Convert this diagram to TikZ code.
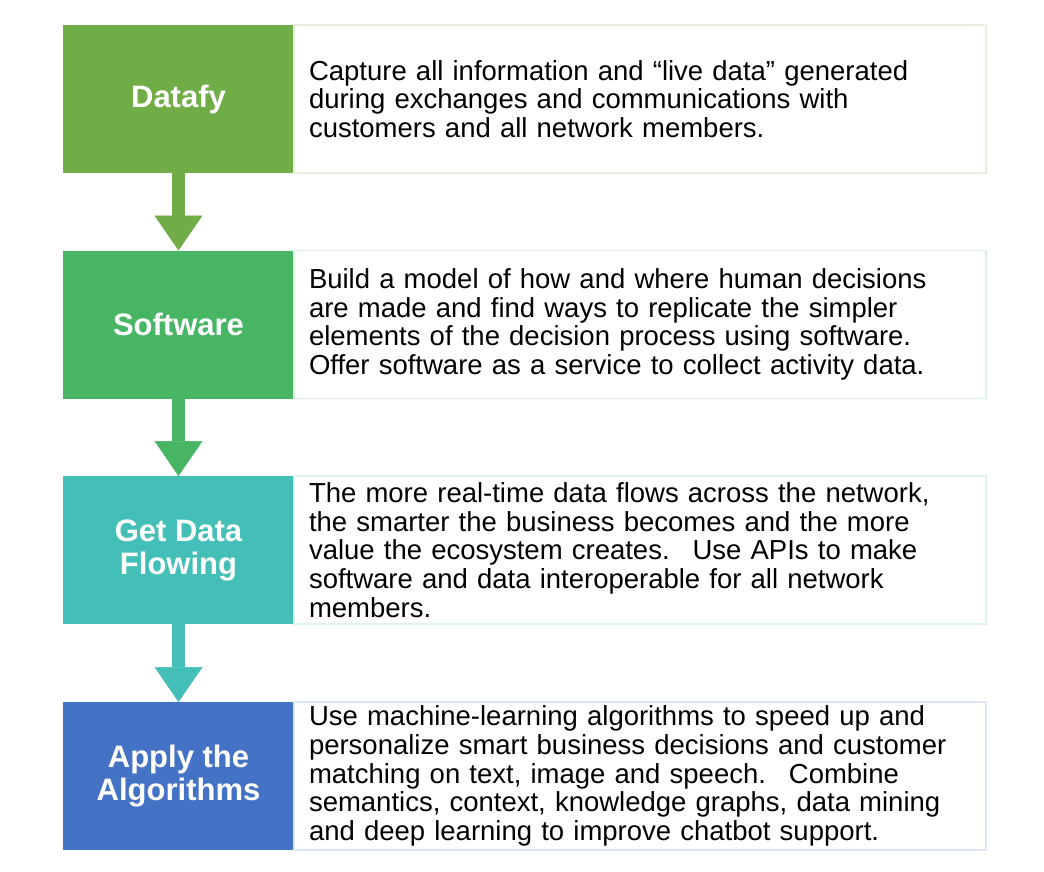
\documentclass[tikz,border=0pt]{standalone}
\usepackage{fontspec}
\setmainfont{Liberation Sans}
\usepackage{tikz}
\usetikzlibrary{positioning}
\usetikzlibrary{arrows.meta}
\definecolor{dataGreen}{HTML}{70AD47}
\definecolor{softGreen}{HTML}{47B564}
\definecolor{flowTeal}{HTML}{44BFB8}
\definecolor{algoBlue}{HTML}{4472C4}
\tikzset{
    stage/.style={shape=rectangle,fill=#1,text=white,minimum width=231pt,minimum height=148pt,
        outer sep=0pt,align=center,font=\fontsize{31}{33}\selectfont\bfseries},
    detail/.style={shape=rectangle,draw=#1!18,line width=1.2pt,fill=white,minimum height=148pt,
        outer sep=0pt,inner xsep=15pt,text width=662pt,align=left,font=\fontsize{27.5}{28.6}\selectfont},
    flow/.style={line width=13pt,draw=#1,-{Triangle[length=35pt,width=48pt,fill=#1,color=#1,line width=0.5pt]}}
}

\begin{document}
\begin{tikzpicture}[x=1pt,y=1pt]
    \useasboundingbox (0,0) rectangle (1044,-872);
    \node[stage=dataGreen] (datafy) at (178.5,-99) {Datafy};
    \node[stage=softGreen] (software) at (178.5,-324.5) {Software};
    \node[stage=flowTeal] (flowing) at (178.5,-550) {Get Data\\Flowing};
    \node[stage=algoBlue] (algo) at (178.5,-776) {Apply the\\Algorithms};
    
    \node[detail=dataGreen,right=0pt of datafy] (datafy_txt) {Capture all information and “live data” generated\\during exchanges and communications with\\customers and all network members.};
    \node[detail=softGreen,right=0pt of software] (software_txt) {Build a model of how and where human decisions\\are made and find ways to replicate the simpler\\elements of the decision process using software.\\Offer software as a service to collect activity data.};
    \node[detail=flowTeal,right=0pt of flowing] (flowing_txt) {The more real-time data flows across the network,\\the smarter the business becomes and the more\\value the ecosystem creates.~ Use APIs to make\\software and data interoperable for all network\\members.};
    \node[detail=algoBlue,right=0pt of algo] (algo_txt) {Use machine-learning algorithms to speed up and\\personalize smart business decisions and customer\\matching on text, image and speech.~ Combine\\semantics, context, knowledge graphs, data mining\\and deep learning to improve chatbot support.};
    
    \path[flow=dataGreen] (datafy) edge (software.north);
    \path[flow=softGreen] (software) edge (flowing.north);
    \path[flow=flowTeal] (flowing) edge (algo.north);
\end{tikzpicture}
\end{document}
